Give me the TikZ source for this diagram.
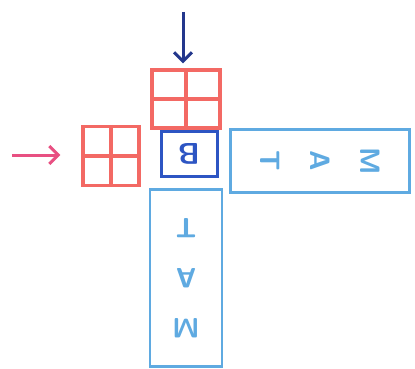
\documentclass[tikz,border=0pt]{standalone}
\usepackage{tikz}
\definecolor{tilered}{RGB}{243,105,100}
\definecolor{feedpink}{RGB}{232,80,130}
\definecolor{feedblue}{RGB}{35,55,140}
\definecolor{bblue}{RGB}{45,85,195}
\definecolor{matblue}{RGB}{95,170,225}
\usetikzlibrary{arrows.meta,positioning}

\begin{document}
\begin{tikzpicture}[x=1pt,y=-1pt,
  tile/.style={draw=tilered,line width=3.2pt,minimum width=68pt,minimum height=58pt,inner sep=0pt},
  strip/.style={draw=matblue,line width=2.8pt,text=matblue,inner sep=0pt,align=center,font=\sffamily\bfseries\fontsize{28}{50}\selectfont},
  feed/.style={-{Straight Barb[length=9pt,width=18pt]},line width=3pt}
]
  \useasboundingbox (0,0) rectangle (415,369);

  % tiles fed in
  \node[tile] (top) at (186,99) {};
  \node[tile,minimum width=56pt,minimum height=59pt] (left) at (111,156) {};
  \foreach \t in {top,left}{
    \draw[tilered,line width=3.2pt] (\t.north) -- (\t.south);
    \draw[tilered,line width=3.2pt] (\t.west) -- (\t.east);
  }

  % B block
  \node[draw=bblue,line width=3pt,minimum width=56pt,minimum height=45pt,text=bblue,
        font=\sffamily\bfseries\fontsize{30}{30}\selectfont,rotate=180] (b) at (189,154) {B};

  % MAT strips
  \node[strip,rotate=-90,minimum width=63pt,minimum height=179pt] (row) at (320,161) {M\\A\\T};
  \node[strip,rotate=180,minimum width=72pt,minimum height=177pt] (col) at (186,278) {M\\A\\T};

  % feeds
  \coordinate (topin) at (183,12);
  \coordinate (leftin) at (12,155);
  \draw[feed,feedblue,shorten >=5pt] (topin) -- (topin |- top.north);
  \draw[feed,feedpink,shorten >=21pt] (leftin) -- (leftin -| left.west);
\end{tikzpicture}
\end{document}
